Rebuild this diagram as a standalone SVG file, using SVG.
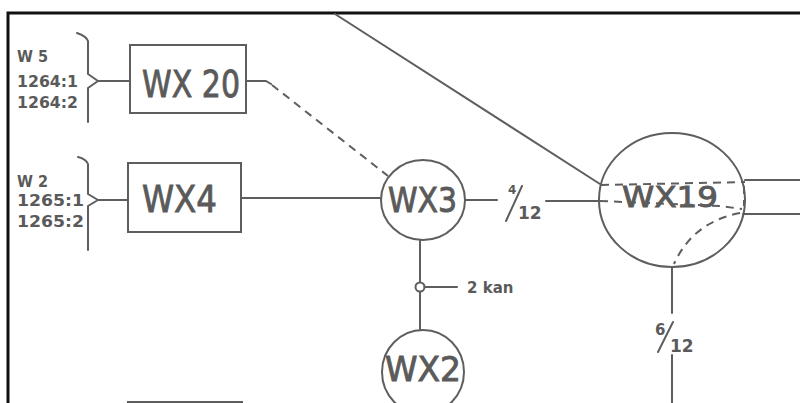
<svg xmlns="http://www.w3.org/2000/svg" width="800" height="403" viewBox="0 0 800 403">
<style>
.ln{fill:none;stroke:#5e5e5e;stroke-width:2;stroke-linecap:round;stroke-linejoin:round}
.ds{fill:none;stroke:#5e5e5e;stroke-width:2;stroke-dasharray:8 6}
.nd{fill:none;stroke:#5e5e5e;stroke-width:2}
.big{font-family:"DejaVu Sans","Liberation Sans",sans-serif;fill:#5a5a5a;stroke:#5a5a5a;stroke-width:0.9}
.sm{font-family:"DejaVu Sans","Liberation Sans",sans-serif;fill:#5a5a5a;font-weight:bold}
.fr{fill:none;stroke:#111;stroke-width:3}
</style>
<rect x="0" y="0" width="800" height="403" fill="#fff"/>
<path class="fr" d="M8,403 V13 H800"/>

<g id="labels-w5">
<text class="sm" x="17" y="62" font-size="16" textLength="31" lengthAdjust="spacingAndGlyphs">W 5</text>
<text class="sm" x="17" y="87" font-size="15" textLength="61" lengthAdjust="spacingAndGlyphs">1264:1</text>
<text class="sm" x="17" y="108" font-size="15" textLength="61" lengthAdjust="spacingAndGlyphs">1264:2</text>
<path class="ln" d="M77,33 Q86,36 88,41 V74 L98,81 L88,88 V122"/>
</g>
<g id="labels-w2">
<text class="sm" x="17" y="187" font-size="16" textLength="31" lengthAdjust="spacingAndGlyphs">W 2</text>
<text class="sm" x="17" y="206" font-size="15" textLength="67" lengthAdjust="spacingAndGlyphs">1265:1</text>
<text class="sm" x="17" y="227" font-size="15" textLength="67" lengthAdjust="spacingAndGlyphs">1265:2</text>
<path class="ln" d="M78,157 Q86,159 88,164 V194 L98,200 L88,206 V250"/>
</g>

<g id="WX20">
<rect class="nd" x="130" y="45" width="116" height="68"/>
<text class="big" x="142" y="97" font-size="38" textLength="98" lengthAdjust="spacingAndGlyphs">WX 20</text>
</g>
<g id="WX4">
<rect class="nd" x="128" y="163" width="113" height="69"/>
<text class="big" x="142" y="212" font-size="38" textLength="75" lengthAdjust="spacingAndGlyphs">WX4</text>
</g>
<g id="WX3">
<ellipse class="nd" cx="423" cy="200" rx="42" ry="40"/>
<text class="big" x="388" y="212" font-size="33" textLength="69" lengthAdjust="spacingAndGlyphs">WX3</text>
</g>
<g id="WX2">
<ellipse class="nd" cx="423" cy="372" rx="41" ry="42"/>
<text class="big" x="385" y="381" font-size="34" textLength="76" lengthAdjust="spacingAndGlyphs">WX2</text>
</g>
<g id="WX19">
<ellipse class="nd" cx="672" cy="200" rx="73" ry="67"/>
<text class="big" x="622" y="207" font-size="28" textLength="96" lengthAdjust="spacingAndGlyphs">WX19</text>
</g>
<g id="bottom-box">
<path class="nd" d="M128,403 V402 H242 V403"/>
</g>

<g id="connectors">
<path class="ln" d="M98,81 H130"/>
<path class="ln" d="M98,200 H128"/>
<path class="ln" d="M246,81 H266 L271,84"/>
<path class="ds" d="M272,85 L388,176"/>
<path class="ln" d="M241,198 H381"/>
<path class="ln" d="M465,200 H497"/>
<path class="ln" d="M546,201 H599"/>
<path class="ln" d="M335,14 L600,184"/>
<path class="ds" d="M601,185 L745,182"/>
<path class="ds" d="M600,201 L720,206 L742,209"/>
<path class="ds" d="M744,186 V206" stroke-dasharray="5 4"/>
<path class="ds" d="M740,213 Q693,222 674,264" stroke-dasharray="6 6"/>
<path class="ln" d="M745,180 H800"/>
<path class="ln" d="M743,214 H800"/>
<path class="ln" d="M672,267 V313"/>
<path class="ln" d="M672,355 V403"/>
<path class="ln" d="M420,240 V282"/>
<circle class="nd" cx="420" cy="287" r="4.5"/>
<path class="ln" d="M420,292 V330"/>
<path class="ln" d="M424.5,287 H457"/>
</g>

<g id="edge-labels">
<text class="sm" x="467" y="293" font-size="15">2 kan</text>
<text class="sm" x="508" y="194" font-size="12">4</text>
<path class="ln" d="M506,221 L522,186"/>
<text class="sm" x="518" y="219" font-size="17">12</text>
<text class="sm" x="655" y="335" font-size="15">6</text>
<path class="ln" d="M658,352 L673,322"/>
<text class="sm" x="670" y="352" font-size="17">12</text>
</g>
</svg>
